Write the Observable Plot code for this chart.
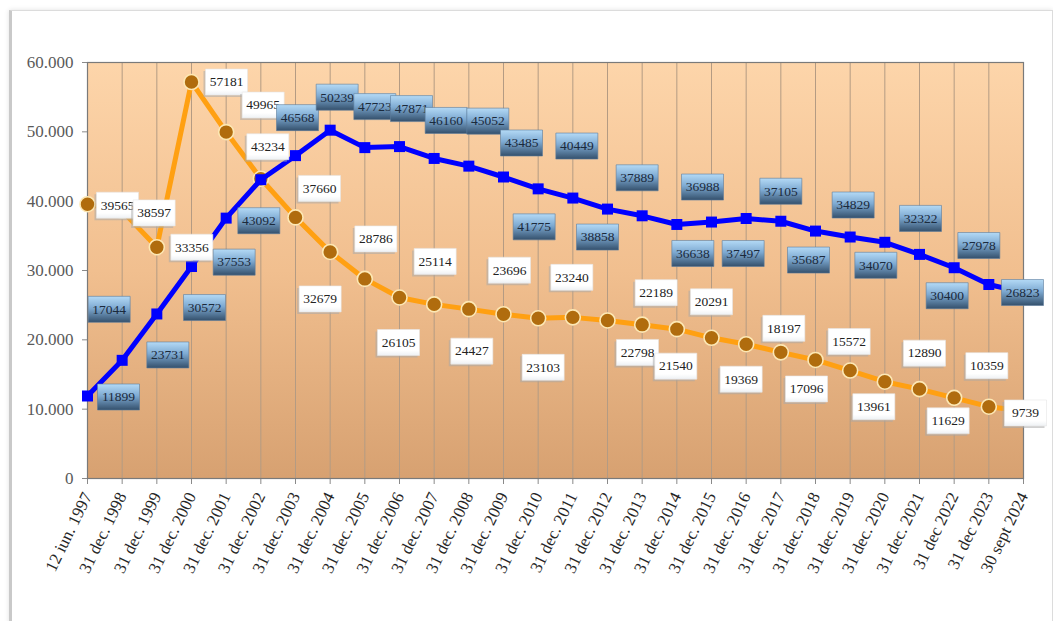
<!DOCTYPE html>
<html><head><meta charset="utf-8">
<script src="https://cdn.jsdelivr.net/npm/d3@7"></script>
<script src="https://cdn.jsdelivr.net/npm/@observablehq/plot@0.6"></script>
<style>
html,body{margin:0;padding:0;background:#fff;}
#wrap{position:relative;width:1053px;height:621px;overflow:hidden;background:#fff;}
#chart{position:absolute;left:0;top:0;}
#border{position:absolute;left:9px;top:10px;width:1040px;height:612px;border:1px solid #dcdcdc;border-left:3px solid #c9c9c9;box-shadow:0 0 5px rgba(0,0,0,.12);pointer-events:none;}
</style></head><body>
<div id="wrap"><div id="chart"></div><div id="border"></div></div>
<script>
// ---- data ----
const dates = ["12 iun. 1997","31 dec. 1998","31 dec. 1999","31 dec. 2000","31 dec. 2001","31 dec. 2002","31 dec. 2003","31 dec. 2004","31 dec. 2005","31 dec. 2006","31 dec. 2007","31 dec. 2008","31 dec. 2009","31 dec. 2010","31 dec. 2011","31 dec. 2012","31 dec. 2013","31 dec. 2014","31 dec. 2015","31 dec. 2016","31 dec. 2017","31 dec. 2018","31 dec. 2019","31 dec. 2020","31 dec. 2021","31 dec 2022","31 dec 2023","30 sept 2024"];
const blueValues = [11899,17044,23731,30572,37553,43092,46568,50239,47723,47871,46160,45052,43485,41775,40449,38858,37889,36638,36988,37497,37105,35687,34829,34070,32322,30400,27978,26823];
const orangeValues = [39565,38597,33356,57181,49965,43234,37660,32679,28786,26105,25114,24427,23696,23103,23240,22798,22189,21540,20291,19369,18197,17096,15572,13961,12890,11629,10359,9739];
const yTicks = [0,10000,20000,30000,40000,50000,60000];

// ---- label placement (pixel offsets from each point) ----
const blueLabelOffsets = [[31,1],[-13,-51],[11,41],[13,41],[8,44],[-2,41],[2,-38],[7,-33],[10,-41],[12,-38],[12,-38],[19,-45],[18,-34],[-4,38],[4,-52],[-10,28],[-5,-38],[16,29],[-9,-35],[-3,35],[0,-30],[-7,29],[3,-32],[-9,23],[1,-36],[-7,28],[-10,-39],[-1,0]];
const orangeLabelOffsets = [[30,1],[32,2],[35,0],[35,0],[37,-27],[7,-32],[24,-29],[-10,47],[11,-40],[-1,45],[1,-43],[3,42],[6,-44],[5,49],[-1,-40],[30,32],[14,-32],[-1,37],[0,-36],[-5,35],[3,-24],[-9,29],[-1,-29],[-11,25],[5,-36],[-6,23],[-2,-41],[2,2]];

const blue = dates.map((d,i)=>({date:d, value:blueValues[i]}));
const orange = dates.map((d,i)=>({date:d, value:orangeValues[i]}));

const boxSymbol = {draw(ctx){ctx.moveTo(-21,-13);ctx.lineTo(21,-13);ctx.lineTo(21,13);ctx.lineTo(-21,13);ctx.closePath();}};

const orangeLabelMarks = [];
orange.forEach((p,i)=>{
  const [dx,dy] = orangeLabelOffsets[i];
  const d = [p];
  orangeLabelMarks.push(Plot.dot(d,{x:"date",y:"value",dx:dx-2,dy:dy+2,symbol:boxSymbol,fill:"#a9a9a9",fillOpacity:0.55}));
  orangeLabelMarks.push(Plot.dot(d,{x:"date",y:"value",dx,dy,symbol:boxSymbol,fill:"url(#whiteBox)",stroke:"#e6e6e6",strokeWidth:0.6}));
  orangeLabelMarks.push(Plot.text(d,{x:"date",y:"value",dx,dy,text:p=>String(p.value),fill:"#222",fontSize:13.5}));
});
const blueLabelMarks = [];
blue.forEach((p,i)=>{
  const [dx,dy] = blueLabelOffsets[i];
  const d = [p];
  blueLabelMarks.push(Plot.dot(d,{x:"date",y:"value",dx,dy,symbol:boxSymbol,fill:"url(#blueBox)",stroke:"#5c7c9c",strokeWidth:0.6}));
  blueLabelMarks.push(Plot.text(d,{x:"date",y:"value",dx,dy,text:p=>String(p.value),fill:"#1b2a3c",fontSize:13.5}));
});

const chart = Plot.plot({
  width:1053, height:621,
  marginLeft:87, marginRight:30, marginTop:62, marginBottom:143,
  style:{fontFamily:"'Liberation Serif', 'Times New Roman', serif", fontSize:"17px", color:"#333", background:"transparent"},
  x:{type:"point", domain:dates, range:[87,1023], padding:0, round:false, tickRotate:-64, tickSize:6, tickPadding:9, label:null},
  y:{domain:[0,60000], range:[478,62], ticks:yTicks, tickSize:5, tickPadding:9, label:null,
     tickFormat:d=>d===0?"0":d3.format(",")(d).replace(/,/g,".")},
  marks:[
    Plot.frame({fill:"url(#bgGrad)"}),
    Plot.ruleX(dates,{y1:0,y2:60000,stroke:"#b49b83",strokeWidth:1}),
    Plot.frame({stroke:"#7a7a7a",strokeWidth:1.2}),
    Plot.line(orange,{x:"date",y:"value",stroke:"#ffa012",strokeWidth:5}),
    Plot.dot(orange,{x:"date",y:"value",r:7.5,fill:"#b06c0e",stroke:"#fde8b4",strokeWidth:1.6}),
    Plot.line(blue,{x:"date",y:"value",stroke:"#0000ff",strokeWidth:5}),
    Plot.dot(blue,{x:"date",y:"value",symbol:"square",r:6.2,fill:"#0000ff"}),
    ...orangeLabelMarks,
    ...blueLabelMarks
  ]
});

const svg = d3.select(chart);
const defs = svg.insert("defs",":first-child");
const bg = defs.append("linearGradient").attr("id","bgGrad").attr("x1",0).attr("y1",0).attr("x2",0).attr("y2",1);
bg.append("stop").attr("offset","0").attr("stop-color","#fdd5aa");
bg.append("stop").attr("offset","0.5").attr("stop-color","#f1bf8f");
bg.append("stop").attr("offset","1").attr("stop-color","#d7a171");
const bb = defs.append("linearGradient").attr("id","blueBox").attr("x1",0).attr("y1",0).attr("x2",0).attr("y2",1);
bb.append("stop").attr("offset","0").attr("stop-color","#b4daf6");
bb.append("stop").attr("offset","0.45").attr("stop-color","#7eaad2");
bb.append("stop").attr("offset","1").attr("stop-color","#34506c");
const wb = defs.append("linearGradient").attr("id","whiteBox").attr("x1",0).attr("y1",0).attr("x2",0).attr("y2",1);
wb.append("stop").attr("offset","0").attr("stop-color","#ffffff");
wb.append("stop").attr("offset","0.8").attr("stop-color","#ffffff");
wb.append("stop").attr("offset","1").attr("stop-color","#eef1f4");
svg.selectAll('[aria-label^="y-axis"] text').attr("fill","#5a5a5a");
svg.selectAll('[aria-label^="x-axis"] text').attr("fill","#262626");
svg.selectAll('[aria-label^="x-axis"] path, [aria-label^="y-axis"] path').attr("stroke","#8a8a8a");
document.getElementById("chart").appendChild(chart);
</script>
</body></html>
